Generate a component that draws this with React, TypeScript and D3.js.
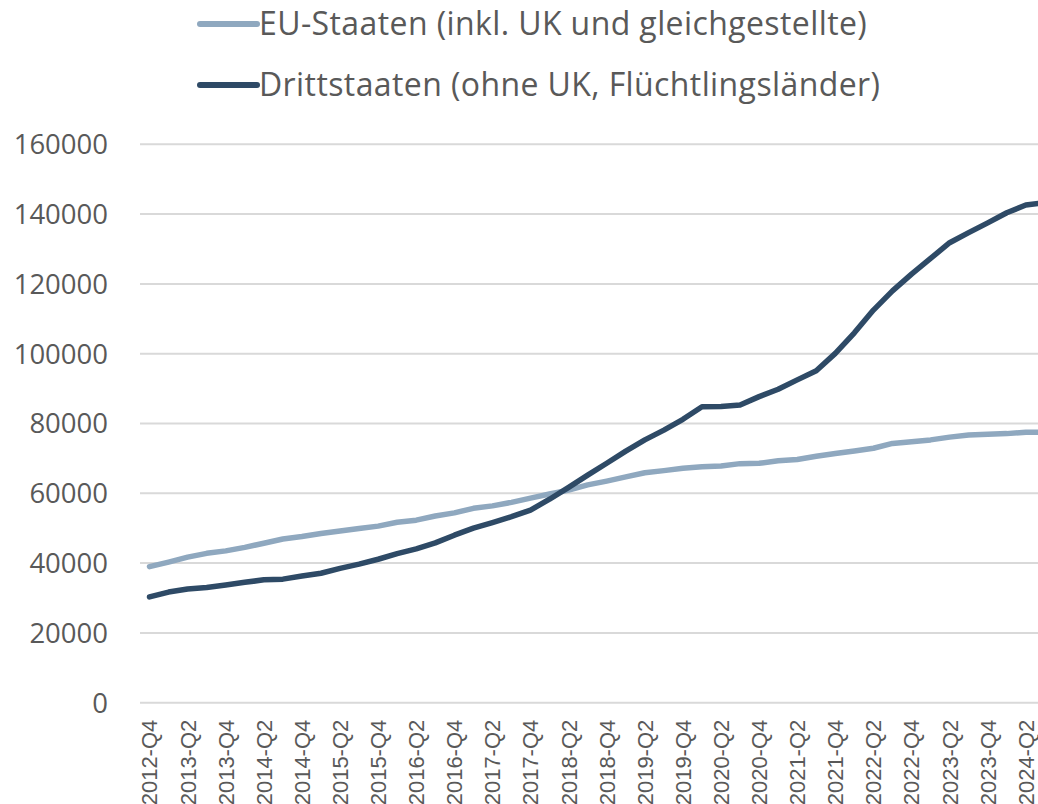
import React from "react";
import * as d3 from "d3";

const categories: string[] = [
  "2012-Q4",
  "2013-Q1", "2013-Q2", "2013-Q3", "2013-Q4",
  "2014-Q1", "2014-Q2", "2014-Q3", "2014-Q4",
  "2015-Q1", "2015-Q2", "2015-Q3", "2015-Q4",
  "2016-Q1", "2016-Q2", "2016-Q3", "2016-Q4",
  "2017-Q1", "2017-Q2", "2017-Q3", "2017-Q4",
  "2018-Q1", "2018-Q2", "2018-Q3", "2018-Q4",
  "2019-Q1", "2019-Q2", "2019-Q3", "2019-Q4",
  "2020-Q1", "2020-Q2", "2020-Q3", "2020-Q4",
  "2021-Q1", "2021-Q2", "2021-Q3", "2021-Q4",
  "2022-Q1", "2022-Q2", "2022-Q3", "2022-Q4",
  "2023-Q1", "2023-Q2", "2023-Q3", "2023-Q4",
  "2024-Q1", "2024-Q2", "2024-Q3",
];

const euStaaten: number[] = [
  39000, 40300, 41700, 42800, 43500, 44500, 45700, 46900, 47600, 48500,
  49200, 49900, 50600, 51700, 52300, 53500, 54400, 55700, 56400, 57400,
  58600, 59800, 60900, 62400, 63500, 64700, 65900, 66500, 67200, 67600,
  67800, 68500, 68600, 69300, 69700, 70600, 71400, 72100, 72900, 74300,
  74800, 75300, 76100, 76700, 76900, 77100, 77500, 77500,
];

const drittstaaten: number[] = [
  30300, 31700, 32600, 33000, 33700, 34500, 35200, 35400, 36300, 37100,
  38500, 39700, 41100, 42700, 44100, 45800, 48000, 50000, 51600, 53300,
  55200, 58300, 61700, 65200, 68600, 72100, 75300, 78100, 81200, 84800,
  84900, 85300, 87700, 89800, 92500, 95100, 100100, 106000, 112500, 118000,
  122800, 127300, 131800, 134700, 137500, 140400, 142600, 143300,
];

const yTicks: number[] = [0, 20000, 40000, 60000, 80000, 100000, 120000, 140000, 160000];

const seriesNames: string[] = [
  "EU-Staaten (inkl. UK und gleichgestellte)",
  "Drittstaaten (ohne UK, Flüchtlingsländer)",
];

const seriesColors: string[] = ["#8FA8BF", "#2E4A66"];

export default function App() {
  const W = 1038;
  const H = 804;
  const left = 140;
  const step = 19.05;
  const right = left + step * categories.length;
  const yTop = 144.3;
  const yBottom = 702.7;

  const x = d3.scaleBand<string>().domain(categories).range([left, right]).padding(0);
  const cx = (c: string) => (x(c) as number) + x.bandwidth() / 2;
  const y = d3.scaleLinear().domain([0, 160000]).range([yBottom, yTop]);

  const line = d3
    .line<number>()
    .x((_, i) => cx(categories[i]))
    .y((d) => y(d))
    .curve(d3.curveLinear);

  const series = [euStaaten, drittstaaten];
  const textColor = "#595959";
  const font = "'Open Sans', sans-serif";

  return (
    <svg
      width={W}
      height={H}
      style={{ position: "absolute", left: 0, top: 0, background: "#fff" }}
    >
      {/* gridlines */}
      {yTicks.map((t) => (
        <line
          key={"g" + t}
          x1={left}
          x2={right}
          y1={y(t)}
          y2={y(t)}
          stroke="#D9D9D9"
          strokeWidth={2}
        />
      ))}
      {/* y tick labels */}
      {yTicks.map((t) => (
        <text
          key={"yl" + t}
          x={108}
          y={y(t)}
          dy="0.36em"
          textAnchor="end"
          fill={textColor}
          fontFamily={font}
          fontSize={27.5}
        >
          {t}
        </text>
      ))}
      {/* x tick labels */}
      {categories.map((c, i) =>
        i % 2 === 0 ? (
          <text
            key={"xl" + c}
            transform={`translate(${cx(c)},${yBottom + 17}) rotate(-90)`}
            dy="0.36em"
            textAnchor="end"
            fill={textColor}
            fontFamily="'Liberation Sans', Arial, sans-serif"
            fontSize={22}
          >
            {c}
          </text>
        ) : null
      )}
      {/* lines */}
      {series.map((s, k) => (
        <path
          key={"s" + k}
          d={line(s) || ""}
          fill="none"
          stroke={seriesColors[k]}
          strokeWidth={5.5}
          strokeLinejoin="round"
          strokeLinecap="round"
        />
      ))}
      {/* legend */}
      {seriesNames.map((n, k) => {
        const ly = 24 + k * 61;
        return (
          <g key={"lg" + k}>
            <line
              x1={200}
              x2={257}
              y1={ly}
              y2={ly}
              stroke={seriesColors[k]}
              strokeWidth={6}
              strokeLinecap="round"
            />
            <text
              x={259}
              y={ly + 11}
              fill={textColor}
              fontFamily={font}
              fontSize={32}
              letterSpacing={0.4}
            >
              {n}
            </text>
          </g>
        );
      })}
    </svg>
  );
}
